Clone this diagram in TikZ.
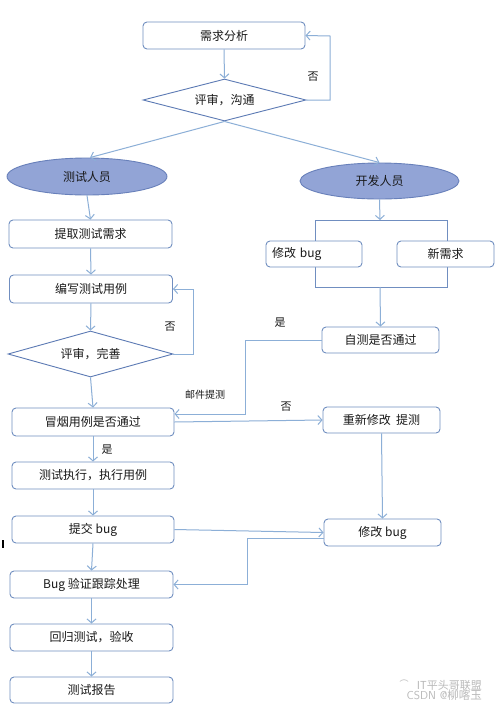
\documentclass[tikz,border=0pt]{standalone}
\usepackage{fontspec}
\newfontfamily\cjk{Noto Sans CJK SC}
\usetikzlibrary{shapes.geometric,arrows.meta}
\definecolor{boxc}{RGB}{112,142,192}
\definecolor{arrc}{RGB}{140,175,215}
\definecolor{diac}{RGB}{92,122,180}
\definecolor{ellf}{RGB}{146,164,214}
\definecolor{elld}{RGB}{104,128,186}
\definecolor{txt}{RGB}{25,25,25}
\definecolor{wm}{RGB}{185,185,185}
\tikzset{
  box/.style={draw=boxc, line width=0.9pt, rounded corners=4pt, fill=white, inner sep=0pt, text=txt, font=\cjk\fontsize{12}{14}\selectfont},
  dia/.style={draw=diac, line width=0.9pt, diamond, inner sep=0pt, fill=white, text=txt, font=\cjk\fontsize{12}{14}\selectfont},
  ell/.style={draw=elld, line width=0.9pt, ellipse, fill=ellf, inner sep=0pt, text=txt, font=\cjk\fontsize{12}{14}\selectfont},
  arr/.style={draw=arrc, line width=1pt, -{Straight Barb[length=4pt,width=9pt]}},
  lbl/.style={text=txt, font=\cjk\fontsize{11}{12}\selectfont, inner sep=0pt},
  small/.style={text=txt, font=\cjk\fontsize{10}{11}\selectfont, inner sep=0pt},
}
\begin{document}
\begin{tikzpicture}[x=1pt,y=-1pt]
\useasboundingbox[fill=white] (0,0) rectangle (499,713);
% bracket behind boxes
\draw[draw=boxc, line width=0.8pt] (315,220) rectangle (447,287);
\coordinate (brtop) at (380,220);
\coordinate (brbot) at (380,287);

\node[box, minimum width=162pt, minimum height=27pt] (req) at (224,35.5) {需求分析};
\node[dia, minimum width=163pt, minimum height=42pt, aspect=3.8] (rev1) at (224.5,100) {评审，沟通};
\node[ell, minimum width=160pt, minimum height=37pt] (tester) at (87,176.5) {测试人员};
\node[ell, minimum width=159pt, minimum height=36pt] (dev) at (379.5,181) {开发人员};
\node[box, minimum width=163pt, minimum height=28pt] (extract) at (90.5,234) {提取测试需求};
\node[box, minimum width=163pt, minimum height=28pt] (write) at (91,289) {编写测试用例};
\node[dia, minimum width=165pt, minimum height=46pt, aspect=3.6] (rev2) at (90.5,354) {评审，完善};
\node[box, minimum width=162pt, minimum height=28pt] (smoke) at (93,422) {冒烟用例是否通过};
\node[box, minimum width=162pt, minimum height=27pt] (exec) at (93,475.5) {测试执行，执行用例};
\node[box, minimum width=162pt, minimum height=27pt] (submit) at (93,529.5) {提交 bug};
\node[box, minimum width=163pt, minimum height=27pt] (verify) at (91.5,584.5) {Bug 验证跟踪处理};
\node[box, minimum width=163pt, minimum height=27pt] (regress) at (91.5,637.5) {回归测试，验收};
\node[box, minimum width=163pt, minimum height=26pt] (report) at (91.5,690) {测试报告};
\node[box, minimum height=26pt, text width=84pt, inner xsep=6pt, align=left] (fix1) at (314,254) {修改 bug};
\node[box, minimum width=97pt, minimum height=26pt] (newreq) at (445.5,254) {新需求};
\node[box, minimum width=117pt, minimum height=26pt] (self) at (380.5,340) {自测是否通过};
\node[box, minimum width=117pt, minimum height=26pt] (redo) at (381.5,420) {重新修改~ 提测};
\node[box, minimum width=117pt, minimum height=27pt] (fix2) at (382.5,532.5) {修改 bug};

% labels
\node[lbl] (n1) at (313,77) {否};
\node[lbl] (n2) at (170,327) {否};
\node[lbl] (y1) at (280,323) {是};
\node[small] (mail) at (205,395) {邮件提测};
\node[lbl] (n3) at (286,407) {否};
\node[lbl] (y2) at (107,450) {是};

% connectors
\draw[arr] (req.south) -- (rev1.north);
\draw[arr] (rev1.east) -- (330,100) -- (330,36) -- (req.east);
\draw[arr] (rev1.south) -- ([xshift=3pt]tester.north);
\draw[arr] (rev1.south) -- (dev.north);
\draw[arr] (tester.south) -- (extract.north);
\draw[arr] (extract.south) -- (write.north);
\draw[arr] (write.south) -- (rev2.north);
\draw[arr] (rev2.east) -- (193,354) -- (193,289) -- (write.east);
\draw[arr] (rev2.south) -- (smoke.north);
\draw[arr] (dev.south) -- (brtop);
\draw[arr] (brbot) -- (self.north);
\draw[arr] (self.west) -- (245,340) -- (245,414) -- (smoke.east |- 0,414);
\draw[arr] (smoke.east) -- (redo.west);
\draw[arr] (smoke.south) -- (exec.north);
\draw[arr] (exec.south) -- (submit.north);
\draw[arr] (redo.south) -- (fix2.north);
\draw[arr] (submit.east) -- (fix2.west);
\draw[arr] (fix2.west |- 0,538) -- (247,538) -- (247,584.5) -- (verify.east);
\draw[arr] (submit.south) -- (verify.north);
\draw[arr] (verify.south) -- (regress.north);
\draw[arr] (regress.south) -- (report.north);

% stray mark and watermark
\draw[black, line width=1.5pt] (3,540) -- (3,548);
\node[text=wm, font=\cjk\fontsize{11}{12}\selectfont, inner sep=0pt, anchor=east] (wm1) at (482,685) {IT平头哥联盟};
\node[text=wm, font=\fontsize{11.5}{12}\selectfont\sffamily, inner sep=0pt, anchor=east] (wm2) at (482,695) {CSDN @\cjk 柳喀玉};
\node[text=wm, font=\fontsize{9}{9}\selectfont, inner sep=0pt] (wm3) at (404,684) {\cjk ⌒};
\end{tikzpicture}
\end{document}
